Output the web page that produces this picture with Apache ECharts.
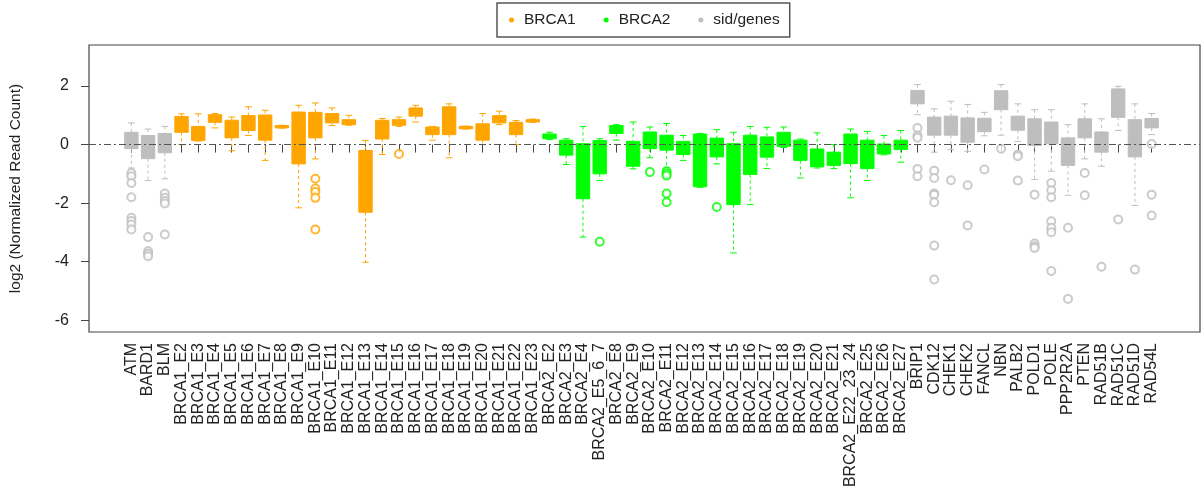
<!DOCTYPE html>
<html>
<head>
<meta charset="utf-8">
<script src="https://cdn.jsdelivr.net/npm/echarts@6/dist/echarts.min.js"></script>
<style>
  html, body { margin: 0; padding: 0; background: #fff; }
  #chart { width: 1202px; height: 496px; }
</style>
</head>
<body>
<div id="chart"></div>
<script>
var categories = ['ATM','BARD1','BLM',
  'BRCA1_E2','BRCA1_E3','BRCA1_E4','BRCA1_E5','BRCA1_E6','BRCA1_E7','BRCA1_E8','BRCA1_E9','BRCA1_E10',
  'BRCA1_E11','BRCA1_E12','BRCA1_E13','BRCA1_E14','BRCA1_E15','BRCA1_E16','BRCA1_E17','BRCA1_E18',
  'BRCA1_E19','BRCA1_E20','BRCA1_E21','BRCA1_E22','BRCA1_E23',
  'BRCA2_E2','BRCA2_E3','BRCA2_E4','BRCA2_E5_6_7','BRCA2_E8','BRCA2_E9','BRCA2_E10','BRCA2_E11',
  'BRCA2_E12','BRCA2_E13','BRCA2_E14','BRCA2_E15','BRCA2_E16','BRCA2_E17','BRCA2_E18','BRCA2_E19',
  'BRCA2_E20','BRCA2_E21','BRCA2_E22_23_24','BRCA2_E25','BRCA2_E26','BRCA2_E27',
  'BRIP1','CDK12','CHEK1','CHEK2','FANCL','NBN','PALB2','POLD1','POLE','PPP2R2A','PTEN',
  'RAD51B','RAD51C','RAD51D','RAD54L'];

// whisker low, Q1, median, Q3, whisker high
var lows = [-0.80,-1.23,-1.17,
  0.00,0.12,0.57,-0.21,0.31,-0.54,0.56,-2.16,-0.49,0.65,0.66,-4.02,-0.34,0.62,0.77,0.15,-0.45,0.53,0.00,0.68,0.00,0.76,
  0.17,-0.68,-3.16,-1.23,0.15,-0.83,-0.45,-0.80,-0.54,-1.46,-0.66,-3.70,-2.05,-0.82,-0.10,-1.14,-0.80,-0.82,-1.82,-1.23,-0.35,-0.60,
  1.02,-0.26,-0.17,-0.23,0.30,0.32,0.11,-1.19,-0.91,-1.73,-0.49,-0.74,0.48,-2.08,0.34];
var q1s = [-0.14,-0.48,-0.28,
  0.42,0.14,0.76,0.23,0.48,0.15,0.57,-0.66,0.23,0.74,0.68,-2.31,0.19,0.66,0.97,0.34,0.34,0.54,0.15,0.74,0.34,0.77,
  0.20,-0.36,-1.85,-1.00,0.38,-0.74,-0.14,-0.19,-0.34,-1.44,-0.42,-2.05,-1.02,-0.43,-0.06,-0.54,-0.76,-0.71,-0.65,-0.82,-0.32,-0.17,
  1.39,0.32,0.32,0.08,0.44,1.19,0.49,-0.03,0.03,-0.71,0.23,-0.26,0.93,-0.42,0.57];
var medians = [0.15,-0.05,0.05,
  0.70,0.40,0.88,0.55,0.75,0.60,0.61,0.40,0.70,0.90,0.77,-1.20,0.50,0.76,1.10,0.47,0.80,0.58,0.45,0.86,0.55,0.81,
  0.28,-0.10,-0.90,-0.40,0.52,-0.30,0.15,0.05,-0.10,-0.50,-0.10,-1.00,-0.30,-0.10,0.20,-0.20,-0.45,-0.48,-0.15,-0.35,-0.15,0.00,
  1.60,0.65,0.65,0.50,0.65,1.50,0.75,0.40,0.40,-0.25,0.55,0.05,1.40,0.20,0.72];
var q3s = [0.42,0.31,0.38,
  0.96,0.62,1.02,0.83,0.99,1.01,0.65,1.11,1.10,1.06,0.85,-0.20,0.83,0.85,1.25,0.60,1.29,0.62,0.71,0.99,0.76,0.85,
  0.36,0.15,0.03,0.14,0.65,0.11,0.43,0.32,0.11,0.36,0.22,0.03,0.32,0.26,0.42,0.15,-0.15,-0.26,0.36,0.15,0.02,0.15,
  1.85,0.94,0.97,0.91,0.90,1.84,0.97,0.88,0.77,0.23,0.88,0.43,1.90,0.85,0.89];
var highs = [0.74,0.53,0.62,
  1.05,1.05,1.06,0.94,1.29,1.17,0.66,1.34,1.42,1.25,1.00,0.14,0.89,0.94,1.34,0.62,1.39,0.63,1.06,1.14,0.82,0.87,
  0.42,0.20,0.62,0.20,0.68,0.77,0.60,0.72,0.31,0.38,0.51,0.42,0.62,0.59,0.60,0.19,0.40,0.00,0.53,0.45,0.31,0.48,
  2.05,1.22,1.48,1.37,1.10,2.05,1.39,1.19,1.19,0.68,1.39,0.88,1.99,1.39,1.06];
var outliers = [
  [-0.97,-1.08,-1.31,-1.80,-2.50,-2.61,-2.73,-2.90], [-3.16,-3.64,-3.73,-3.81], [-1.67,-1.82,-1.93,-2.01,-3.07],
  [],[],[],[],[],[],[],[], [-1.17,-1.50,-1.62,-1.82,-2.90], [],[],[],[], [-0.32], [],[],[],[],[],[],[],[],
  [],[],[], [-3.32], [],[], [-0.94], [-0.91,-0.99,-1.06,-1.67,-1.97], [],[], [-2.13], [],[],[],[],[],[],[],[],[],[],[],
  [0.57,0.31,0.23,-0.83,-1.08], [-0.89,-1.14,-1.67,-1.71,-1.97,-3.45,-4.61], [-1.22], [-1.39,-2.76], [-0.85],
  [-0.14], [-0.34,-0.40,-1.23], [-1.71,-3.38,-3.47,-3.53], [-1.31,-1.56,-1.80,-2.62,-2.84,-2.99,-4.32],
  [-2.84,-5.27], [-0.97,-1.73], [-4.17], [-2.56], [-4.27], [0.02,-1.71,-2.42]];

var groups = ['BRCA1', 'BRCA2', 'sid/genes'];
var groupColors = ['#FFA500', '#00FF00', '#BEBEBE'];
var yTicks = [-6, -4, -2, 0, 2];

function groupOf(name) {
  if (name.indexOf('BRCA1') === 0) return 'BRCA1';
  if (name.indexOf('BRCA2') === 0) return 'BRCA2';
  return 'sid/genes';
}

function renderBox(params, api) {
  var x = api.value(0);
  var lo = api.coord([x, api.value(1)]);
  var q1 = api.coord([x, api.value(2)]);
  var md = api.coord([x, api.value(3)]);
  var q3 = api.coord([x, api.value(4)]);
  var hi = api.coord([x, api.value(5)]);
  var w = api.size([1, 0])[0] * 0.8;
  var cx = lo[0];
  var color = api.visual('color');
  var dash = { stroke: color, lineWidth: 1, lineDash: [3, 3] };
  var solid = { stroke: color, lineWidth: 1 };
  return {
    type: 'group',
    children: [
      { type: 'line', shape: { x1: cx, y1: hi[1], x2: cx, y2: q3[1] }, style: dash },
      { type: 'line', shape: { x1: cx, y1: q1[1], x2: cx, y2: lo[1] }, style: dash },
      { type: 'line', shape: { x1: cx - w / 4, y1: hi[1], x2: cx + w / 4, y2: hi[1] }, style: solid },
      { type: 'line', shape: { x1: cx - w / 4, y1: lo[1], x2: cx + w / 4, y2: lo[1] }, style: solid },
      { type: 'rect', shape: { x: cx - w / 2, y: q3[1], width: w, height: Math.max(q1[1] - q3[1], 1) },
        style: { fill: color, stroke: color, lineWidth: 1 } },
      { type: 'line', shape: { x1: cx - w / 2, y1: md[1], x2: cx + w / 2, y2: md[1] },
        style: { stroke: color, lineWidth: 2 } }
    ]
  };
}

var series = [{
  type: 'line',
  xAxisIndex: 0,
  yAxisIndex: 0,
  data: [],
  silent: true,
  markLine: {
    silent: true,
    symbol: 'none',
    label: { show: false },
    lineStyle: { color: '#555', width: 1, type: [7, 3, 2, 3] },
    data: [{ yAxis: 0 }]
  }
}];

groups.forEach(function (g, gi) {
  var boxData = [];
  var outData = [];
  categories.forEach(function (c, i) {
    if (groupOf(c) !== g) return;
    boxData.push([i, lows[i], q1s[i], medians[i], q3s[i], highs[i]]);
    outliers[i].forEach(function (v) { outData.push([i, v]); });
  });
  series.push({
    name: g,
    type: 'custom',
    xAxisIndex: 1,
    yAxisIndex: 1,
    renderItem: renderBox,
    encode: { x: 0, y: [1, 2, 3, 4, 5] },
    itemStyle: { color: groupColors[gi] },
    data: boxData
  });
  series.push({
    name: g,
    type: 'scatter',
    xAxisIndex: 1,
    yAxisIndex: 1,
    symbol: 'emptyCircle',
    symbolSize: 8,
    itemStyle: { color: groupColors[gi], borderWidth: 1 },
    data: outData
  });
});

var chart = echarts.init(document.getElementById('chart'));
var option = {
  animation: false,
  backgroundColor: '#fff',
  textStyle: { fontFamily: 'Liberation Sans, Arial, sans-serif' },
  legend: {
    data: groups,
    left: 497,
    top: 3,
    icon: 'circle',
    itemWidth: 15,
    itemHeight: 5,
    itemGap: 28,
    padding: [9, 10, 9, 12],
    borderColor: '#555',
    borderWidth: 1.5,
    textStyle: { fontSize: 15.5, color: '#222' }
  },
  grid: [
    { left: 83, right: 2, top: 45, bottom: 164, show: true, borderColor: '#444', borderWidth: 1.2 },
    { left: 123, right: 42, top: 45, bottom: 164 }
  ],
  xAxis: [
    { type: 'value', gridIndex: 0, min: 0, max: 1, show: false },
    {
      type: 'category',
      gridIndex: 1,
      data: categories,
      axisLine: { show: false },
      axisTick: { show: true, alignWithLabel: true, length: 8, lineStyle: { color: '#444' } },
      axisLabel: { interval: 0, rotate: 90, fontSize: 16, color: '#222', margin: 11 },
      splitLine: { show: false }
    }
  ],
  yAxis: [
    {
      type: 'value',
      gridIndex: 0,
      min: -6.4,
      max: 3.4,
      name: 'log2 (Normalized Read Count)',
      nameLocation: 'middle',
      nameGap: 65,
      nameTextStyle: { fontSize: 15.5, color: '#222' },
      axisLine: { show: false },
      axisTick: { show: true, length: 8, customValues: yTicks, lineStyle: { color: '#444' } },
      axisLabel: { fontSize: 16, color: '#222', margin: 20, customValues: yTicks },
      splitLine: { show: false }
    },
    { type: 'value', gridIndex: 1, min: -6.4, max: 3.4, show: false }
  ],
  series: series
};
chart.setOption(option);
window.addEventListener('resize', function () {
  chart.resize();
});
</script>
</body>
</html>
